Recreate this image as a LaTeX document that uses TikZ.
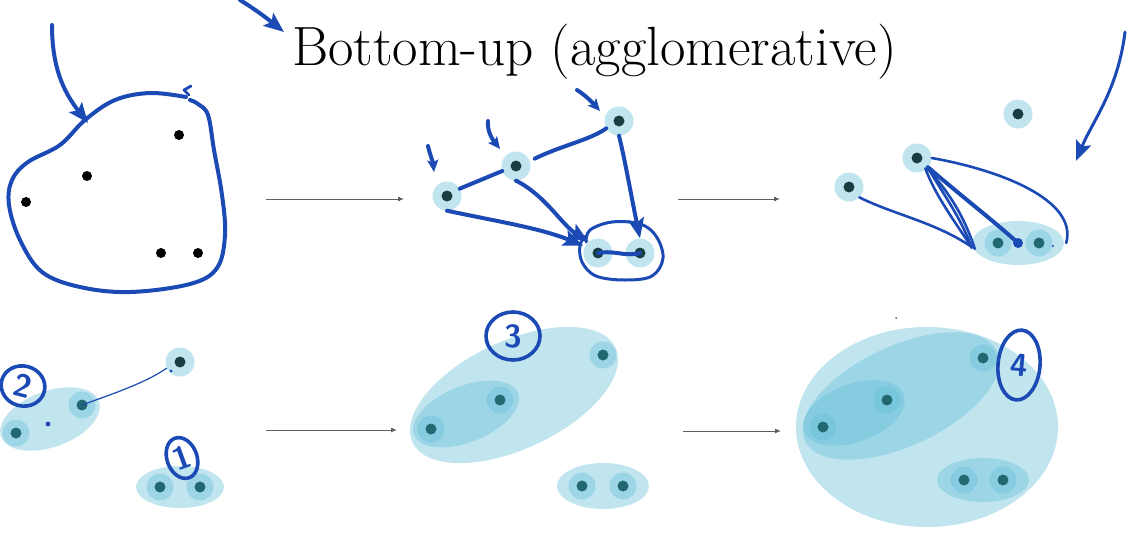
\documentclass[tikz,border=0pt]{standalone}
\usetikzlibrary{arrows.meta,shapes.geometric}
\definecolor{inkc}{RGB}{27,74,180}
\definecolor{haloc}{RGB}{100,190,215}
\definecolor{dotd}{RGB}{24,62,66}
\definecolor{dott}{RGB}{34,104,112}
\definecolor{flowc}{RGB}{95,95,95}
\begin{document}
\begin{tikzpicture}[x=1pt,y=-1pt,
 ink/.style={draw=inkc,line width=4pt,line cap=round,line join=round},
 inkthin/.style={draw=inkc,line width=2.6pt,line cap=round,line join=round},
 head/.style={-{Stealth[length=20pt,width=16pt,inset=4pt]}},
 smallhead/.style={-{Stealth[length=12pt,width=11pt,inset=2.5pt]}},
 flow/.style={draw=flowc,line width=1pt,-{Latex[length=6pt,width=5pt]}},
 bdot/.style={circle,fill=black,minimum size=10pt,inner sep=0pt},
 spt/.style={circle,fill=haloc,fill opacity=.4,text opacity=1,minimum size=29pt,inner sep=0pt,
   path picture={\fill[dotd,fill opacity=1] (path picture bounding box.center) circle[radius=5.5pt];}},
 cpt/.style={circle,fill=haloc,fill opacity=.4,text opacity=1,minimum size=27pt,inner sep=0pt,
   path picture={\fill[dott,fill opacity=1] (path picture bounding box.center) circle[radius=5.5pt];}},
 clu/.style={ellipse,fill=haloc,fill opacity=.4,inner sep=0pt},
 lbl/.style={ellipse,draw=inkc,line width=3.6pt,text=inkc,inner sep=0pt,
   font=\sffamily\bfseries\fontsize{32}{32}\selectfont}]
\useasboundingbox (0,0) rectangle (1131,549);

% title
\node[anchor=base west,font=\fontsize{55.3}{56}\selectfont,inner sep=0pt] (title) at (292,65) {Bottom-up (agglomerative)};
\coordinate (ta0) at (240,0);
\coordinate (ta1) at (284,32);
\draw[ink,head] (ta0) .. controls (253,8) and (264,16) .. (ta1);

% panel 1
\draw[ink] plot[smooth,tension=0.6] coordinates {(186,97) (150,93) (115,100) (85,120) (60,145) (28,162) (12,180) (9,205) (20,240) (42,272) (80,287) (130,292) (190,284) (217,268) (225,235) (222,195) (214,150) (208,115) (198,104) (190,100)};
\draw[ink,line width=2.8pt] (191,86) -- (184,90) -- (189,95);
\coordinate (b0) at (52,25);
\coordinate (b1) at (88,123);
\draw[ink,head] (b0) .. controls (52,65) and (62,90) .. (b1);
\node[bdot] (p1a) at (179,135) {};
\node[bdot] (p1b) at (87,176) {};
\node[bdot] (p1c) at (26,202) {};
\node[bdot] (p1d) at (161,253) {};
\node[bdot] (p1e) at (198,253) {};

% flow arrows
\coordinate (f1a) at (266,199); \coordinate (f1b) at (404,199);
\coordinate (f2a) at (678,199); \coordinate (f2b) at (780,199);
\coordinate (f3a) at (266,430); \coordinate (f3b) at (397,430);
\coordinate (f4a) at (683,431); \coordinate (f4b) at (781,431);
\draw[flow] (f1a) -- (f1b);
\draw[flow] (f2a) -- (f2b);
\draw[flow] (f3a) -- (f3b);
\draw[flow] (f4a) -- (f4b);

% panel 2
\node[spt] (a) at (447,196) {};
\node[spt] (b) at (516,166) {};
\node[spt] (c) at (619,121) {};
\node[spt] (d) at (598,253) {};
\node[spt] (e) at (640,253) {};
\draw[ink] (a.30) -- (b.200);
\draw[ink] ([xshift=6pt]b.30) .. controls (560,146) and (590,140) .. (c.210);
\draw[ink,head] (a.south) .. controls (500,222) and (540,228) .. ([xshift=-2pt]d.150);
\draw[ink,head] (b.south) .. controls (545,195) and (562,225) .. (d.130);
\draw[ink,head] (c.south) .. controls (625,160) and (632,200) .. (e.north);
\draw[ink] (d.center) .. controls (615,250) and (625,257) .. (e.center);
\draw[ink,line width=3pt] plot[smooth,tension=0.6] coordinates {(586,242) (590,230) (612,222) (640,224) (656,236) (663,258) (652,276) (625,280) (596,276) (582,262) (580,245) (586,236)};
\coordinate (sa0) at (428,146); \coordinate (sa1) at (434,172);
\coordinate (sb0) at (488,121); \coordinate (sb1) at (500,149);
\coordinate (sc0) at (577,90); \coordinate (sc1) at (600,111);
\draw[ink,smallhead] (sa0) .. controls (430,155) and (433,162) .. (sa1);
\draw[ink,smallhead] (sb0) .. controls (487,132) and (493,140) .. (sb1);
\draw[ink,smallhead] (sc0) .. controls (585,95) and (592,102) .. (sc1);

% panel 3
\node[clu,minimum width=92pt,minimum height=44pt] (tc) at (1018,243) {};
\node[spt] (t1) at (1018,114) {};
\node[spt] (t2) at (917,158) {};
\node[spt] (t3) at (849,187) {};
\node[cpt] (t4) at (998,243) {};
\node[cpt] (t5) at (1039,243) {};
\draw[inkthin] (t3.south east) .. controls (895,215) and (935,222) .. ([yshift=-4pt]tc.west);
\draw[inkthin] ([yshift=2pt]t2.south east) .. controls (940,190) and (960,215) .. ([yshift=-5pt]tc.west);
\draw[inkthin] (t2.south east) .. controls (945,188) and (963,212) .. ([shift={(3pt,-6pt)}]tc.west);
\draw[inkthin] ([xshift=-2pt]t2.south east) .. controls (935,195) and (955,222) .. ([shift={(-1pt,-3pt)}]tc.west);
\draw[ink] (t2.-40) .. controls (960,195) and (995,222) .. (tc.center);
\fill[inkc] (tc.center) circle[radius=5];
\draw[inkthin] (t2.east) .. controls (1000,170) and (1078,200) .. ([xshift=2pt]tc.east);
\fill[inkc] (1053,246) circle[radius=1.2];
\coordinate (r0) at (1125,32);
\coordinate (r1) at (1076,161);
\draw[inkthin,line width=3pt,head] (r0) .. controls (1118,90) and (1092,122) .. (r1);

% bottom-left
\node[clu,minimum width=104pt,minimum height=56pt,rotate=20] (bc2) at (50,419) {};
\node[clu,minimum width=88pt,minimum height=42pt] (bc1) at (180,487) {};
\node[cpt] (bl1) at (16,433) {};
\node[cpt] (bl2) at (82,405) {};
\node[spt] (bl3) at (180,362) {};
\node[cpt] (bl4) at (160,487) {};
\node[cpt] (bl5) at (200,487) {};
\draw[inkc,line width=1.2pt,line cap=round] (bl2.center) .. controls (115,393) and (145,383) .. (bl3.205);
\fill[inkc] (48,424) circle[radius=2.4];
\fill[inkc] (171,371) circle[radius=1.6];
\node[lbl,minimum width=44pt,minimum height=40pt,rotate=-15] (l2) at (23,386) {2};
\node[lbl,minimum width=30pt,minimum height=42pt,rotate=20] (l1) at (182,458) {1};

% bottom-middle
\node[clu,minimum width=224pt,minimum height=108pt,rotate=25] (mc3) at (514,395) {};
\node[clu,minimum width=112pt,minimum height=56pt,rotate=22] (mc2) at (466,414) {};
\node[clu,minimum width=92pt,minimum height=46pt] (mc1) at (603,486) {};
\node[cpt] (m1) at (431,429) {};
\node[cpt] (m2) at (500,400) {};
\node[cpt] (m3) at (603,355) {};
\node[cpt] (m4) at (582,486) {};
\node[cpt] (m5) at (623,486) {};
\node[lbl,minimum width=54pt,minimum height=48pt] (l3) at (513,336) {3};

% bottom-right
\node[clu,minimum width=262pt,minimum height=200pt] (rc4) at (927,427) {};
\node[clu,minimum width=212pt,minimum height=100pt,rotate=25] (rc3) at (901,396) {};
\node[clu,minimum width=106pt,minimum height=58pt,rotate=20] (rc2) at (854,413) {};
\node[clu,minimum width=92pt,minimum height=44pt] (rc1) at (983,480) {};
\node[cpt] (n1) at (823,427) {};
\node[cpt] (n2) at (887,400) {};
\node[cpt] (n3) at (983,358) {};
\node[cpt] (n4) at (964,480) {};
\node[cpt] (n5) at (1003,480) {};
\node[lbl,minimum width=42pt,minimum height=70pt,rotate=-5] (l4) at (1019,365) {4};
\fill[flowc] (896,318) circle[radius=1];
\end{tikzpicture}
\end{document}
